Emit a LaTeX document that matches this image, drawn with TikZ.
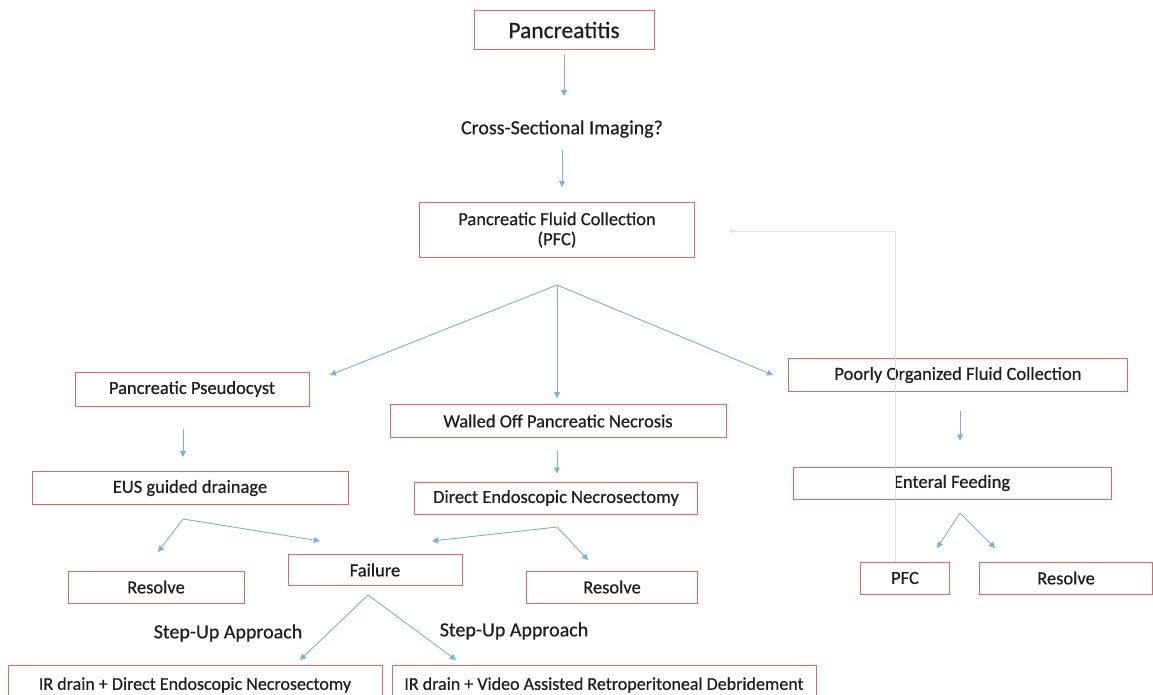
\documentclass[tikz,border=0pt]{standalone}
\usepackage{fontspec}
\setmainfont{Carlito}[FakeBold=0.5]
\usetikzlibrary{arrows.meta}
\definecolor{boxred}{HTML}{E8665E}
\definecolor{arrblue}{HTML}{7AAFDF}
\definecolor{txt}{HTML}{1E1E1E}
\tikzset{
  bx/.style={draw=boxred, line width=1pt, fill=white, text=txt, inner sep=0pt, align=center, font=\fontsize{18.5}{20}\selectfont},
  lbl/.style={text=txt, inner sep=0pt, font=\fontsize{20}{22}\selectfont},
  arr/.style={draw=arrblue, line width=0.9pt, -{Triangle[width=6pt,length=6pt]}},
  fb/.style={draw=black!12, line width=0.9pt, -{Triangle[width=4pt,length=4pt]}}
}
\begin{document}
\begin{tikzpicture}[x=1pt,y=-1pt]
\useasboundingbox (0,0) rectangle (1153,694);
\begin{scope}
\clip (0,0) rectangle (1153,694);
% boxes
\node[bx, minimum width=180, minimum height=39, font=\fontsize{23.5}{26}\selectfont] (pan) at (564,30) {Pancreatitis};
\node[lbl] (csi) at (562,129) {Cross-Sectional Imaging?};
\node[bx, minimum width=275, minimum height=55] (pfc) at (557,230) {Pancreatic Fluid Collection\\(PFC)};
\node[bx, minimum width=234, minimum height=34] (pseudo) at (192,389) {Pancreatic Pseudocyst};
\node[bx, minimum width=336, minimum height=33] (wopn) at (558,421) {Walled Off Pancreatic Necrosis};
\node[bx, minimum width=339, minimum height=33] (pofc) at (958,375) {Poorly Organized Fluid Collection};
\node[bx, minimum width=316, minimum height=33] (eus) at (190,488) {EUS guided drainage};
\node[bx, minimum width=283, minimum height=32] (den) at (556,498) {Direct Endoscopic Necrosectomy};
\node[bx, minimum width=318, minimum height=32] (ef) at (952,483) {Enteral Feeding};
\node[bx, minimum width=176, minimum height=32] (res1) at (156,587) {Resolve};
\node[bx, minimum width=174, minimum height=31] (fail) at (375,570) {Failure};
\node[bx, minimum width=171, minimum height=32] (res2) at (612,587) {Resolve};
\node[bx, minimum width=89, minimum height=32] (pfc2) at (905,578) {PFC};
\node[bx, minimum width=173, minimum height=32] (res3) at (1066,578) {Resolve};
\node[bx, minimum width=374, minimum height=40, font=\fontsize{18}{20}\selectfont] (ir1) at (195,685) {IR drain + Direct Endoscopic Necrosectomy};
\node[bx, minimum width=424, minimum height=40, font=\fontsize{18}{20}\selectfont] (ir2) at (604,685) {IR drain + Video Assisted Retroperitoneal Debridement};
\node[lbl] (su1) at (228,633) {Step-Up Approach};
\node[lbl] (su2) at (514,631) {Step-Up Approach};
% coordinates
\coordinate (br1) at (557,285);
\coordinate (t1) at (330,375);
\coordinate (t2) at (557,398);
\coordinate (t3) at (773,375);
\coordinate (br2) at (183,519);
\coordinate (t4) at (158,552);
\coordinate (t5) at (320,541);
\coordinate (br3) at (557,527);
\coordinate (t6) at (432,541);
\coordinate (t7) at (588,560);
\coordinate (br4) at (960,513);
\coordinate (t8) at (937,548);
\coordinate (t9) at (995,548);
\coordinate (br5) at (368,595);
\coordinate (t10) at (300,660);
\coordinate (t11) at (456,660);
\coordinate (fbend) at (895,231);
\coordinate (fbend2) at (729,231);
% connectors
\draw[arr, shorten <=4pt, shorten >=24pt] (pan.south) -- (csi.north -| pan.south);
\draw[arr] ([yshift=-12pt]csi.south) -- ([yshift=15pt]pfc.north -| csi.south);
\draw[arr] (br1) -- (t1);
\draw[arr] (br1) -- (t2);
\draw[arr] (br1) -- (t3);
\draw[arr, shorten <=22pt, shorten >=14pt] (pseudo.south -| br2) -- (eus.north -| br2);
\draw[arr, shorten <=13pt, shorten >=8pt] (wopn.south -| br3) -- (den.north -| br3);
\draw[arr, shorten <=19pt, shorten >=26pt] (pofc.south -| br4) -- (ef.north -| br4);
\draw[arr] (br2) -- (t4);
\draw[arr] (br2) -- (t5);
\draw[arr] (br3) -- (t6);
\draw[arr] (br3) -- (t7);
\draw[arr] (br4) -- (t8);
\draw[arr] (br4) -- (t9);
\draw[arr] (br5) -- (t10);
\draw[arr] (br5) -- (t11);
\draw[fb] (pfc2.north -| fbend) -- (fbend) -- (fbend2);
\end{scope}
\end{tikzpicture}
\end{document}
